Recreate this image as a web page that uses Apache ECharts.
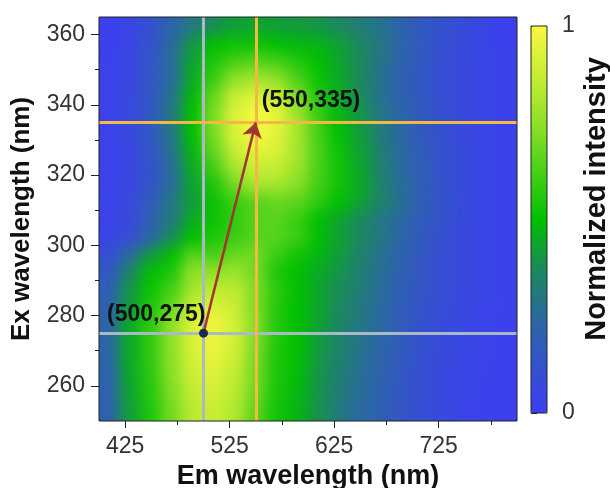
<!DOCTYPE html>
<html><head><meta charset="utf-8">
<script src="https://cdn.jsdelivr.net/npm/echarts@6/dist/echarts.min.js"></script>
<style>
html,body{margin:0;padding:0;background:#fff}
#wrap{position:relative;width:610px;height:488px;overflow:hidden}
#clip{position:absolute;left:99px;top:17px;width:418px;height:404px;overflow:hidden}
#heat{position:absolute;left:-30px;top:-30px;width:478px;height:464px;filter:blur(7px)}
#c{position:absolute;left:0;top:0;width:610px;height:488px}
</style>
</head><body>
<div id="wrap"><div id="clip"><div id="heat"></div></div><div id="c"></div></div>
<script>
// ---- data ----
const emCenters = [410,430,450,470,490,510,530,550,570,590,610,630,650,670,690,710,730,750,770,790];
const exCenters = [252.5,257.5,262.5,267.5,272.5,277.5,282.5,287.5,292.5,297.5,302.5,307.5,312.5,317.5,322.5,327.5,332.5,337.5,342.5,347.5,352.5,357.5,362.5];
// one row per excitation wavelength (ascending), values per emission column
const intensityRows = [
 [0.20,0.42,0.55,0.70,0.84,0.88,0.82,0.66,0.53,0.47,0.39,0.31,0.25,0.20,0.14,0.10,0.07,0.04,0.03,0.02],
 [0.20,0.43,0.56,0.72,0.86,0.90,0.84,0.68,0.54,0.48,0.40,0.32,0.26,0.20,0.15,0.10,0.07,0.05,0.03,0.02],
 [0.21,0.44,0.57,0.74,0.88,0.93,0.86,0.70,0.55,0.49,0.40,0.33,0.27,0.21,0.15,0.11,0.07,0.05,0.03,0.02],
 [0.22,0.45,0.58,0.75,0.90,0.95,0.88,0.70,0.55,0.50,0.41,0.34,0.28,0.22,0.16,0.11,0.08,0.05,0.04,0.02],
 [0.22,0.45,0.58,0.75,0.92,0.97,0.90,0.72,0.56,0.50,0.42,0.35,0.29,0.23,0.17,0.12,0.08,0.06,0.04,0.02],
 [0.22,0.45,0.58,0.75,0.93,0.98,0.90,0.73,0.56,0.50,0.43,0.36,0.30,0.24,0.17,0.12,0.08,0.06,0.04,0.02],
 [0.20,0.42,0.55,0.68,0.88,0.93,0.88,0.72,0.56,0.50,0.44,0.37,0.31,0.25,0.18,0.13,0.09,0.06,0.04,0.03],
 [0.18,0.40,0.52,0.62,0.80,0.85,0.85,0.72,0.58,0.50,0.44,0.38,0.32,0.26,0.19,0.14,0.10,0.07,0.05,0.03],
 [0.15,0.35,0.50,0.55,0.75,0.75,0.78,0.70,0.55,0.50,0.45,0.40,0.33,0.27,0.20,0.14,0.10,0.07,0.05,0.03],
 [0.10,0.25,0.40,0.50,0.65,0.62,0.68,0.70,0.60,0.53,0.48,0.42,0.35,0.28,0.21,0.15,0.10,0.07,0.05,0.03],
 [0.04,0.10,0.22,0.38,0.50,0.55,0.60,0.65,0.65,0.60,0.50,0.43,0.36,0.30,0.22,0.16,0.11,0.07,0.05,0.03],
 [0.03,0.08,0.20,0.30,0.45,0.52,0.58,0.65,0.65,0.60,0.50,0.44,0.37,0.30,0.23,0.17,0.12,0.08,0.05,0.03],
 [0.04,0.08,0.18,0.30,0.42,0.52,0.60,0.65,0.68,0.66,0.58,0.50,0.43,0.35,0.27,0.19,0.13,0.08,0.05,0.03],
 [0.03,0.06,0.13,0.26,0.43,0.55,0.70,0.80,0.80,0.74,0.62,0.53,0.45,0.35,0.26,0.18,0.12,0.08,0.05,0.03],
 [0.03,0.06,0.13,0.26,0.45,0.62,0.80,0.88,0.87,0.78,0.63,0.53,0.44,0.34,0.25,0.18,0.12,0.08,0.05,0.03],
 [0.03,0.06,0.14,0.28,0.48,0.68,0.88,0.95,0.92,0.80,0.63,0.52,0.43,0.33,0.24,0.17,0.12,0.08,0.05,0.03],
 [0.03,0.07,0.15,0.30,0.50,0.72,0.92,1.00,0.95,0.80,0.62,0.50,0.42,0.32,0.23,0.16,0.11,0.07,0.05,0.03],
 [0.03,0.07,0.15,0.30,0.50,0.72,0.92,1.00,0.95,0.78,0.60,0.48,0.40,0.30,0.22,0.16,0.11,0.07,0.05,0.03],
 [0.03,0.07,0.15,0.28,0.48,0.68,0.88,0.93,0.88,0.72,0.56,0.46,0.38,0.28,0.20,0.15,0.10,0.07,0.05,0.03],
 [0.03,0.06,0.14,0.25,0.45,0.60,0.75,0.80,0.75,0.63,0.52,0.45,0.37,0.28,0.20,0.15,0.10,0.07,0.05,0.03],
 [0.03,0.06,0.14,0.26,0.43,0.55,0.62,0.65,0.62,0.56,0.50,0.44,0.37,0.29,0.21,0.15,0.10,0.07,0.05,0.03],
 [0.02,0.05,0.13,0.25,0.40,0.50,0.52,0.52,0.50,0.48,0.47,0.43,0.37,0.30,0.22,0.16,0.11,0.08,0.05,0.02],
 [0.02,0.05,0.12,0.22,0.30,0.38,0.42,0.43,0.42,0.41,0.40,0.36,0.32,0.28,0.21,0.15,0.12,0.08,0.05,0.02]
];
const emRange = [400, 800];
const exRange = [250, 365];
const xMajorTicks = [425, 525, 625, 725];
const xMinorTicks = [475, 575, 675, 775];
const yMajorTicks = [260, 280, 300, 320, 340, 360];
const yMinorTicks = [270, 290, 310, 330, 350];
const crossGray = [500, 275];    // [em, ex]
const crossOrange = [550, 335];  // [em, ex]
const peakStart = [500, 275];
const peakEnd = [550, 335];
const colorbarRange = [0, 1];

// ---- build ----
const heatData = [];
intensityRows.forEach((row, yi) => row.forEach((v, xi) => heatData.push([xi, yi, v])));

const palette = ['#3d3df5','#3452cc','#2a6a9e','#1a8a5a','#00c000','#48d018','#90e028','#c8ee34','#f8f840'];
const FONT = 'Liberation Sans, Arial, sans-serif';
const tickLbl = { fontFamily: FONT, fontSize: 23, color: '#333' };
const PAD = 30; // heat layer margin outside the visible plot (hidden by clipping)
const lastCol = emCenters.length - 1, lastRow = exCenters.length - 1;

// heatmap layer: cells drawn by a custom series on the category scales, then softened by a display blur
const heat = echarts.init(document.getElementById('heat'), null, { renderer: 'canvas' });
heat.setOption({
  animation: false,
  grid: { left: PAD, right: PAD, top: PAD, bottom: PAD, show: false, outerBoundsMode: 'none' },
  xAxis: { type: 'category', data: emCenters, show: false },
  yAxis: { type: 'category', data: exCenters, show: false },
  visualMap: { type: 'continuous', show: false, dimension: 2, min: colorbarRange[0], max: colorbarRange[1], inRange: { color: palette } },
  series: [{
    type: 'custom', data: heatData, silent: true, clip: false,
    renderItem: (params, api) => {
      const xi = api.value(0), yi = api.value(1);
      const c = api.coord([xi, yi]);
      const s = api.size([1, 1]);
      let x0 = c[0] - s[0] / 2, x1 = c[0] + s[0] / 2, y0 = c[1] - s[1] / 2, y1 = c[1] + s[1] / 2;
      if (xi === 0) x0 -= PAD;
      if (xi === lastCol) x1 += PAD;
      if (yi === 0) y1 += PAD;
      if (yi === lastRow) y0 -= PAD;
      x0 = Math.floor(x0); y0 = Math.floor(y0); x1 = Math.ceil(x1); y1 = Math.ceil(y1);
      return { type: 'rect', shape: { x: x0, y: y0, width: x1 - x0, height: y1 - y0 },
        style: { fill: api.visual('color') } };
    }
  }]
});

const chart = echarts.init(document.getElementById('c'), null, { renderer: 'canvas' });
chart.setOption({
  animation: false,
  backgroundColor: 'transparent',
  grid: [
    { left: 99, top: 17, width: 418, height: 404, show: true, z: 10, borderColor: '#222', borderWidth: 1,
      backgroundColor: 'transparent', outerBoundsMode: 'none' },
    { left: 531, top: 26, width: 16, height: 387, show: true, z: 10, borderColor: '#222', borderWidth: 1,
      backgroundColor: 'transparent', outerBoundsMode: 'none' }
  ],
  xAxis: [
    { type: 'value', gridIndex: 0, min: emRange[0], max: emRange[1], position: 'bottom',
      axisLine: { show: false }, splitLine: { show: false },
      axisTick: { show: true, inside: false, length: 7, lineStyle: { color: '#222' }, customValues: xMajorTicks },
      axisLabel: Object.assign({ margin: 14, customValues: xMajorTicks }, tickLbl),
      name: 'Em wavelength (nm)', nameLocation: 'middle', nameGap: 41,
      nameTextStyle: { fontFamily: FONT, fontSize: 27, fontWeight: 'bold', color: '#111' } },
    { type: 'value', gridIndex: 0, min: emRange[0], max: emRange[1], position: 'bottom',
      axisLine: { show: false }, splitLine: { show: false }, axisLabel: { show: false },
      axisTick: { show: true, length: 4, lineStyle: { color: '#222' }, customValues: xMinorTicks } },
    { type: 'value', gridIndex: 1, min: 0, max: 1, show: false }
  ],
  yAxis: [
    { type: 'value', gridIndex: 0, min: exRange[0], max: exRange[1], position: 'left',
      axisLine: { show: false }, splitLine: { show: false },
      axisTick: { show: true, inside: false, length: 8, lineStyle: { color: '#222' }, customValues: yMajorTicks },
      axisLabel: Object.assign({ margin: 14, customValues: yMajorTicks }, tickLbl),
      name: 'Ex wavelength (nm)', nameLocation: 'middle', nameGap: 64,
      nameTextStyle: { fontFamily: FONT, fontSize: 26, fontWeight: 'bold', color: '#111' } },
    { type: 'value', gridIndex: 0, min: exRange[0], max: exRange[1], position: 'left',
      axisLine: { show: false }, splitLine: { show: false }, axisLabel: { show: false },
      axisTick: { show: true, length: 4, lineStyle: { color: '#222' }, customValues: yMinorTicks } },
    { type: 'value', gridIndex: 1, min: colorbarRange[0], max: colorbarRange[1], interval: 1, position: 'right',
      axisLine: { show: false }, splitLine: { show: false },
      axisTick: { show: true, length: 6, lineStyle: { color: '#222' } },
      axisLabel: Object.assign({ margin: 15 }, tickLbl) }
  ],
  visualMap: {
    type: 'continuous', seriesIndex: [], min: colorbarRange[0], max: colorbarRange[1],
    orient: 'vertical', left: 531, top: 26, itemWidth: 16, itemHeight: 387, padding: 0,
    calculable: false, text: null, showLabel: false, hoverLink: false,
    inRange: { color: palette }
  },
  graphic: [{
    type: 'text', x: 597, y: 199, rotation: Math.PI / 2,
    style: { text: 'Normalized intensity', fontFamily: FONT, fontSize: 29, fontWeight: 'bold', fill: '#111',
      align: 'center', verticalAlign: 'middle' }
  }],
  series: [
    { type: 'line', xAxisIndex: 0, yAxisIndex: 0, data: [], silent: true,
      markLine: { silent: true, symbol: 'none', label: { show: false }, animation: false,
        lineStyle: { color: '#a9b9c6', width: 3, type: 'solid' },
        data: [{ xAxis: crossGray[0] }, { yAxis: crossGray[1] }] } },
    { type: 'line', xAxisIndex: 0, yAxisIndex: 0, data: [], silent: true,
      markLine: { silent: true, symbol: 'none', label: { show: false }, animation: false,
        lineStyle: { color: '#f6b845', width: 3, type: 'solid' },
        data: [{ xAxis: crossOrange[0] }, { yAxis: crossOrange[1] }] } },
    { type: 'line', xAxisIndex: 0, yAxisIndex: 0, data: [], silent: true,
      markLine: { silent: true, symbol: ['none', 'arrow'], symbolSize: 15, label: { show: false }, animation: false,
        lineStyle: { color: '#a3352f', width: 2.5, type: 'solid' },
        data: [[{ coord: peakStart }, { coord: peakEnd }]] } },
    { type: 'scatter', xAxisIndex: 0, yAxisIndex: 0, silent: true, z: 5,
      itemStyle: { color: '#1b2a48', opacity: 1 },
      label: { show: true, position: 'inside', fontFamily: FONT, fontSize: 23, fontWeight: 'bold', color: '#111',
        formatter: p => '(' + p.value[0] + ',' + p.value[1] + ')' },
      data: [
        { value: peakStart, symbolSize: 9, label: { align: 'right', verticalAlign: 'middle', offset: [2, -19] } },
        { value: peakEnd, symbolSize: 0, label: { align: 'left', verticalAlign: 'middle', offset: [6, -22] } }
      ] }
  ]
});
</script></body></html>
